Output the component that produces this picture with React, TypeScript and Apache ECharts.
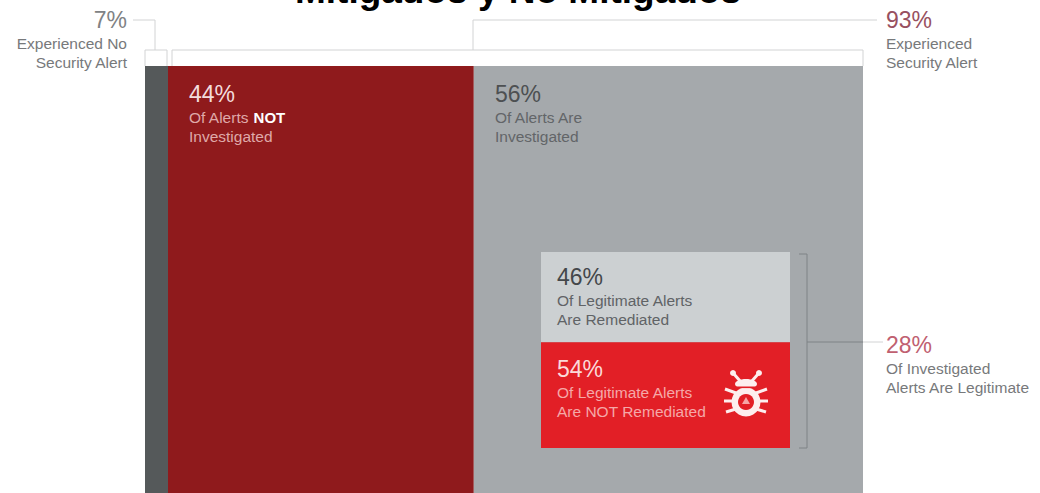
import React, { useEffect, useRef } from "react";
import * as echarts from "echarts";

const noAlertShare = [7];
const alertShare = 93;
const investigationLabels = ["Not investigated", "Investigated"];
const investigationSplit = [44, 56];
const legitimateShare = 28;
const remediationLabels = ["Remediated", "Not remediated"];
const remediationSplit = [46, 54];

const COLORS = {
  none: "#55595a",
  notInvestigated: "#8f1a1c",
  investigated: "#a5a9ac",
  remediated: "#ccd0d2",
  notRemediated: "#e21f26",
  rule: "#d2d3d4",
  caption: "#77797b",
  callout: "#8c3a48",
};

const FONT = "'Liberation Sans', Arial, sans-serif";

type Caption = { x: number; y: number; pct: number; lines: string[]; pctFill: string; fill: string; align?: string };

const captions: Caption[] = [
  { x: 127, y: 20, pct: noAlertShare[0], lines: ["Experienced No", "Security Alert"], pctFill: "#808284", fill: COLORS.caption, align: "right" },
  { x: 886, y: 20, pct: alertShare, lines: ["Experienced", "Security Alert"], pctFill: "#985060", fill: COLORS.caption },
  { x: 189, y: 94, pct: investigationSplit[0], lines: ["Of Alerts {b|NOT}", "Investigated"], pctFill: "#f3dcdc", fill: "#dfa9a9" },
  { x: 495, y: 94, pct: investigationSplit[1], lines: ["Of Alerts Are", "Investigated"], pctFill: "#4d5052", fill: "#626568" },
  { x: 557, y: 277, pct: remediationSplit[0], lines: ["Of Legitimate Alerts", "Are Remediated"], pctFill: "#44474a", fill: "#606366" },
  { x: 557, y: 369, pct: remediationSplit[1], lines: ["Of Legitimate Alerts", "Are NOT Remediated"], pctFill: "#fbd9d9", fill: "#f5a8a8" },
  { x: 886, y: 345, pct: legitimateShare, lines: ["Of Investigated", "Alerts Are Legitimate"], pctFill: "#c06070", fill: COLORS.caption },
];

function captionElements(c: Caption) {
  const align = c.align ?? "left";
  const head = {
    type: "text", x: c.x, y: c.y, z: 100,
    style: { text: `${c.pct}%`, fontFamily: FONT, fontSize: 23, fill: c.pctFill, align, verticalAlign: "middle" },
  };
  const rows = c.lines.map((line, i) => ({
    type: "text", x: c.x, y: c.y + 23.5 + i * 18.5, z: 100,
    style: {
      text: line, fontFamily: FONT, fontSize: 15.5, fill: c.fill, align, verticalAlign: "middle",
      rich: { b: { fontFamily: FONT, fontSize: 15, fontWeight: 700, fill: "#ffffff" } },
    },
  }));
  return [head, ...rows];
}

function rule(points: number[][], stroke = COLORS.rule) {
  return { type: "polyline", z: 90, shape: { points }, style: { stroke, fill: "none", lineWidth: 1 } };
}

// Bug pictogram on the "not remediated" panel, built around its centre point.
function bugIcon(cx: number, cy: number) {
  const white = "#fdeeee";
  const stroke = (x1: number, y1: number, x2: number, y2: number, w = 3) => ({
    type: "line", z: 101, shape: { x1: cx + x1, y1: cy + y1, x2: cx + x2, y2: cy + y2 },
    style: { stroke: white, lineWidth: w },
  });
  const pairs: number[][] = [
    [-5, -15, -13, -24],
    [-10, -4, -21, -8],
    [-13, 4, -22, 4],
    [-10, 12, -20, 15],
  ];
  const legs = pairs.flatMap(([a, b, c, d]) => [stroke(a, b, c, d), stroke(-a, b, -c, d)]);
  return [
    ...legs,
    { type: "circle", z: 101, shape: { cx: cx - 13, cy: cy - 24, r: 3 }, style: { fill: white } },
    { type: "circle", z: 101, shape: { cx: cx + 13, cy: cy - 24, r: 3 }, style: { fill: white } },
    { type: "ellipse", z: 101, shape: { cx, cy: cy - 13, rx: 11, ry: 5 }, style: { fill: white } },
    { type: "rect", z: 102, shape: { x: cx - 13, y: cy - 10.5, width: 26, height: 1.6 }, style: { fill: COLORS.notRemediated } },
    { type: "circle", z: 101, shape: { cx, cy: cy + 5, r: 14.5 }, style: { fill: white } },
    { type: "circle", z: 102, shape: { cx, cy: cy + 5, r: 8 }, style: { fill: COLORS.notRemediated } },
    { type: "polygon", z: 103, shape: { points: [[cx, cy], [cx + 4, cy + 7], [cx - 4, cy + 7]] }, style: { fill: "#f6a5a5" } },
  ];
}

export default function App() {
  const ref = useRef<HTMLDivElement>(null);

  useEffect(() => {
    document.body.style.margin = "0";
    document.body.style.overflow = "hidden";
    const chart = echarts.init(ref.current!, undefined, { renderer: "svg" });

    const hiddenCategory = (gridIndex: number) => ({ type: "category", gridIndex, data: [""], show: false });
    const hiddenValue = (gridIndex: number, max: number, inverse = false) => ({
      type: "value", gridIndex, min: 0, max, inverse, show: false,
    });

    chart.setOption({
      animation: false,
      backgroundColor: "#ffffff",
      title: {
        text: "Mitigados y No Mitigados",
        left: 513,
        top: -33,
        textAlign: "center",
        textStyle: { fontFamily: FONT, fontSize: 37, fontWeight: 700, color: "#000000" },
      },
      grid: [
        { left: 145, top: 66, width: 23, height: 427 },
        { left: 168, top: 66, width: 695, height: 427 },
        { left: 541, top: 252, width: 249, height: 196 },
      ],
      xAxis: [hiddenValue(0, noAlertShare[0]), hiddenValue(1, 100), hiddenCategory(2)],
      yAxis: [hiddenCategory(0), hiddenCategory(1), hiddenValue(2, 100, true)],
      series: [
        {
          type: "bar", name: "No alert", xAxisIndex: 0, yAxisIndex: 0, barWidth: "100%",
          data: noAlertShare, itemStyle: { color: COLORS.none },
        },
        ...investigationSplit.map((v, i) => ({
          type: "bar", name: investigationLabels[i], xAxisIndex: 1, yAxisIndex: 1, stack: "alerts", barWidth: "100%",
          data: [v], itemStyle: { color: i === 0 ? COLORS.notInvestigated : COLORS.investigated },
        })),
        ...remediationSplit.map((v, i) => ({
          type: "bar", name: remediationLabels[i], xAxisIndex: 2, yAxisIndex: 2, stack: "legit", barWidth: "100%",
          data: [v], z: 5, itemStyle: { color: i === 0 ? COLORS.remediated : COLORS.notRemediated },
        })),
      ],
      graphic: {
        elements: [
          rule([[133, 20], [155, 20], [155, 50]]),
          rule([[145, 66], [145, 50], [167, 50], [167, 66]]),
          rule([[172, 66], [172, 50], [863, 50], [863, 66]]),
          rule([[473, 50], [473, 20], [877, 20]]),
          rule([[799, 254], [807, 254], [807, 448], [799, 448]], "#7f8386"),
          rule([[807, 342], [863, 342]], "#7f8386"),
          rule([[863, 342], [883, 342]]),
          ...captions.flatMap(captionElements),
          ...bugIcon(746, 397),
        ],
      },
    });

    return () => chart.dispose();
  }, []);

  return <div ref={ref} style={{ width: 1040, height: 493 }} />;
}
